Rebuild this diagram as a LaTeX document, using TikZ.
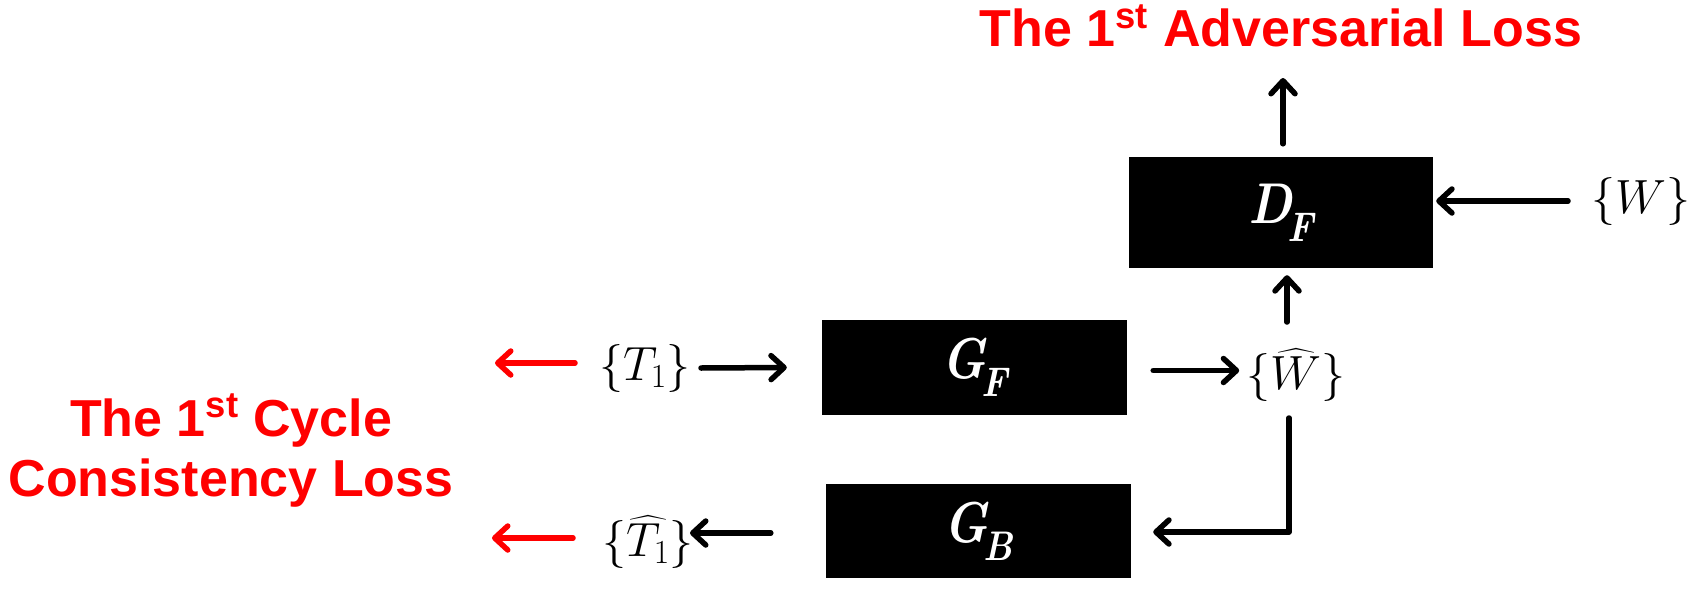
\RequirePackage{fix-cm}
\documentclass[tikz,border=0pt]{standalone}
\usepackage{amsmath,graphicx}
\usepackage{fontspec}
\newfontfamily\arialfont{Liberation Sans}
\usetikzlibrary{arrows.meta}
\definecolor{lossred}{RGB}{255,0,0}
\newcommand{\boxlabel}[2]{\scalebox{1}[1.15]{\bfseries\itshape #1\kern-0.1em\raisebox{-0.32em}{\fontsize{36}{40}\selectfont\bfseries\itshape #2}}}
\begin{document}
\begin{tikzpicture}[x=1pt,y=-1pt,
  arr/.style={line width=5.5pt, line cap=round, line join=round,
    -{Straight Barb[length=13pt,width=24pt,line cap=round,line join=round]}},
  redarr/.style={arr, draw=lossred},
  blk/.style={fill=black, text=white, inner sep=0pt,
    font=\fontsize{50}{56}\selectfont},
  lbl/.style={inner sep=0pt, font=\fontsize{48}{54}\selectfont},
  losstext/.style={text=lossred, inner sep=0pt,
    font=\arialfont\bfseries\fontsize{52}{60}\selectfont, align=center}
]
\useasboundingbox (0,0) rectangle (1696,594);

% boxes
\node[blk, minimum width=304pt, minimum height=111pt] (df) at (1281,212.5) {\boxlabel{D}{F}};
\node[blk, minimum width=305pt, minimum height=95pt]  (gf) at (974.5,367.5) {\boxlabel{G}{F}};
\node[blk, minimum width=305pt, minimum height=94pt]  (gb) at (978.5,531) {\boxlabel{G}{B}};

% math labels
\node[lbl] (t1)    at (645,368)  {$\{T_1\}$};
\node[lbl] (t1hat) at (648,542)  {$\{\widehat{T_1}\}$};
\node[lbl] (what)  at (1296,375) {$\{\widehat{W}\}$};
\node[lbl] (w)     at (1641,201) {$\{W\}$};

% loss texts
\node[losstext, anchor=base] (adv) at (1281,47) {The 1\textsuperscript{st} Adversarial Loss};
\node[losstext, anchor=north] (cyc) at (231,394) {The 1\textsuperscript{st} Cycle\\Consistency Loss};

\coordinate (redtop) at (495,363);
\coordinate (redbot) at (492,538);

% connectors
\draw[arr] ([xshift=56pt]t1.center) -- ([xshift=-35pt]gf.west);
\draw[arr] ([xshift=26pt,yshift=-3pt]gf.east) -- ++(86,0);
\draw[arr] ([xshift=-9pt,yshift=53pt]what.center) -- ([xshift=6pt,yshift=-7pt]df.south);
\draw[arr] ([xshift=2pt,yshift=13pt]df.north) -- ([xshift=2pt,yshift=-31pt]adv.base);
\draw[arr] ([xshift=-73pt]w.center) -- ([xshift=3pt,yshift=11.5pt]df.east);
\draw[arr] ([xshift=-7pt,yshift=-43pt]what.center) |- ([xshift=22pt,yshift=-1pt]gb.east);
\draw[arr] ([xshift=-55pt,yshift=-2pt]gb.west) -- ([xshift=42pt,yshift=9pt]t1hat.center);
\draw[redarr] ([xshift=-70pt,yshift=5pt]t1.center) -- (redtop);
\draw[redarr] ([xshift=-75pt,yshift=4pt]t1hat.center) -- (redbot);
\end{tikzpicture}
\end{document}
